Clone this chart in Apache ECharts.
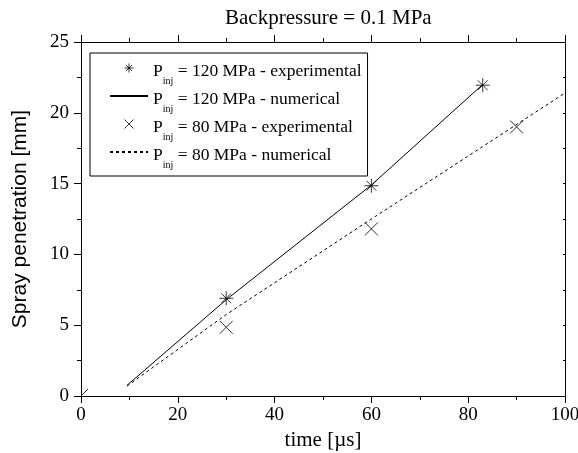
<!DOCTYPE html>
<html>
<head>
<meta charset="utf-8">
<script src="https://cdn.jsdelivr.net/npm/echarts@6/dist/echarts.min.js"></script>
<style>
html,body{margin:0;padding:0;background:#fff;}
#chart{width:578px;height:453px;}
</style>
</head>
<body>
<div id="chart"></div>
<script>
// ---- data ----
var titleText = 'Backpressure = 0.1 MPa';
var xName = 'time [µs]';
var yName = 'Spray penetration [mm]';
var xTicks = [0, 20, 40, 60, 80, 100];
var yTicks = [0, 5, 10, 15, 20, 25];
var exp120 = [[30, 6.9], [60, 14.85], [83, 21.95]];
var num120 = [[9.5, 0.75], [30, 6.8], [60, 14.9], [83, 22.0]];
var exp80 = [[0, 0], [30, 4.85], [60, 11.8], [90, 19.0]];
var num80 = [[9.5, 0.7], [30, 5.75], [60, 12.5], [100, 21.4]];
var seriesKeys = ['e120', 'n120', 'e80', 'n80'];
var legendPressure = ['120', '120', '80', '80'];
var legendKind = ['experimental', 'numerical', 'experimental', 'numerical'];

// ---- styles ----
var SERIF = '"Liberation Serif", "Times New Roman", serif';
var SANS = '"Liberation Sans", Arial, sans-serif';
var STAR = 'path://M5,0L5,10M0,5L10,5M1.5,1.5L8.5,8.5M1.5,8.5L8.5,1.5';
var CROSS = 'path://M0,0L10,10M0,10L10,0';
var QUARTER = 'path://M0,10L10,0';

function axisCommon(extra) {
  var base = {
    type: 'value',
    axisLine: { show: true, onZero: false, lineStyle: { color: '#000', width: 1 } },
    splitLine: { show: false },
    minorSplitLine: { show: false }
  };
  for (var k in extra) base[k] = extra[k];
  return base;
}

var exp80Data = exp80.map(function (p) {
  if (p[0] === 0 && p[1] === 0) {
    return { value: p, symbol: QUARTER, symbolSize: 7, symbolOffset: [3.5, -3.5] };
  }
  return p;
});

var legendMap = {};
seriesKeys.forEach(function (k, i) {
  legendMap[k] = '{a|P}{s|inj}{a| = ' + legendPressure[i] + ' MPa - ' + legendKind[i] + '}';
});

var chart = echarts.init(document.getElementById('chart'), null, { renderer: 'canvas' });
chart.setOption({
  animation: false,
  backgroundColor: '#fff',
  title: {
    text: titleText,
    left: 225, top: 6, padding: 0,
    textStyle: { fontFamily: SERIF, fontSize: 21, fontWeight: 'normal', color: '#000', lineHeight: 24 }
  },
  grid: { left: 81, right: 13, top: 42, bottom: 57, containLabel: false, outerBoundsMode: 'none' },
  legend: {
    orient: 'vertical',
    left: 90, top: 53,
    padding: [5, 6, 6, 19],
    itemWidth: 38, itemHeight: 9, itemGap: 0,
    borderColor: '#000', borderWidth: 1,
    selectedMode: false,
    data: [
      { name: 'e120', icon: STAR, itemStyle: { color: '#000', borderColor: '#000', borderWidth: 1 } },
      { name: 'n120', itemStyle: { opacity: 0 } },
      { name: 'e80', icon: CROSS, itemStyle: { color: '#000', borderColor: '#000', borderWidth: 1 } },
      { name: 'n80', itemStyle: { opacity: 0 } }
    ],
    formatter: function (name) { return legendMap[name]; },
    textStyle: {
      color: '#000',
      rich: {
        a: { fontFamily: SERIF, fontSize: 17.5, lineHeight: 20, verticalAlign: 'top', padding: [4, 0, 0, 0], color: '#000' },
        s: { fontFamily: SERIF, fontSize: 10, lineHeight: 10, verticalAlign: 'top', padding: [18, 0, 0, 0], color: '#000' }
      }
    }
  },
  xAxis: [
    axisCommon({
      position: 'bottom', min: 0, max: 100, interval: 20,
      axisTick: { show: true, inside: false, length: 7, lineStyle: { color: '#000' } },
      minorTick: { show: true, splitNumber: 2, length: 4, lineStyle: { color: '#000' } },
      axisLabel: { fontFamily: SERIF, fontSize: 19, color: '#000', margin: 10 },
      name: xName, nameLocation: 'middle', nameGap: 34,
      nameTextStyle: { fontFamily: SERIF, fontSize: 21, color: '#000' }
    }),
    axisCommon({
      position: 'top', min: 0, max: 100, interval: 20,
      axisTick: { show: true, inside: false, length: 7, lineStyle: { color: '#000' } },
      minorTick: { show: true, splitNumber: 2, length: 4, lineStyle: { color: '#000' } },
      axisLabel: { show: false }
    })
  ],
  yAxis: [
    axisCommon({
      position: 'left', min: 0, max: 25, interval: 5,
      axisTick: { show: true, inside: false, length: 7, lineStyle: { color: '#000' } },
      minorTick: { show: true, splitNumber: 2, length: 4, lineStyle: { color: '#000' } },
      axisLabel: { fontFamily: SERIF, fontSize: 19, color: '#000', margin: 12 },
      name: yName, nameLocation: 'middle', nameGap: 50,
      nameTextStyle: { fontFamily: SANS, fontSize: 21, color: '#000' }
    }),
    axisCommon({
      position: 'right', min: 0, max: 25, interval: 5,
      axisTick: { show: true, inside: true, length: 2, lineStyle: { color: '#000' } },
      minorTick: { show: true, splitNumber: 2, length: 2, lineStyle: { color: '#000' } },
      axisLabel: { show: false }
    })
  ],
  series: [
    {
      name: 'e120', type: 'scatter', data: exp120,
      symbol: STAR, symbolSize: 14,
      itemStyle: { color: '#000', borderColor: '#000', borderWidth: 1 }, z: 5
    },
    {
      name: 'n120', type: 'line', data: num120, symbol: 'none',
      lineStyle: { color: '#000', width: 1, type: 'solid' }, itemStyle: { color: '#000' }
    },
    {
      name: 'e80', type: 'scatter', data: exp80Data,
      symbol: CROSS, symbolSize: 13,
      itemStyle: { color: '#000', borderColor: '#000', borderWidth: 1 }, z: 5
    },
    {
      name: 'n80', type: 'line', data: num80, symbol: 'none',
      lineStyle: { color: '#000', width: 1, type: [3, 3] }, itemStyle: { color: '#000' }
    }
  ]
});
</script>
</body>
</html>
